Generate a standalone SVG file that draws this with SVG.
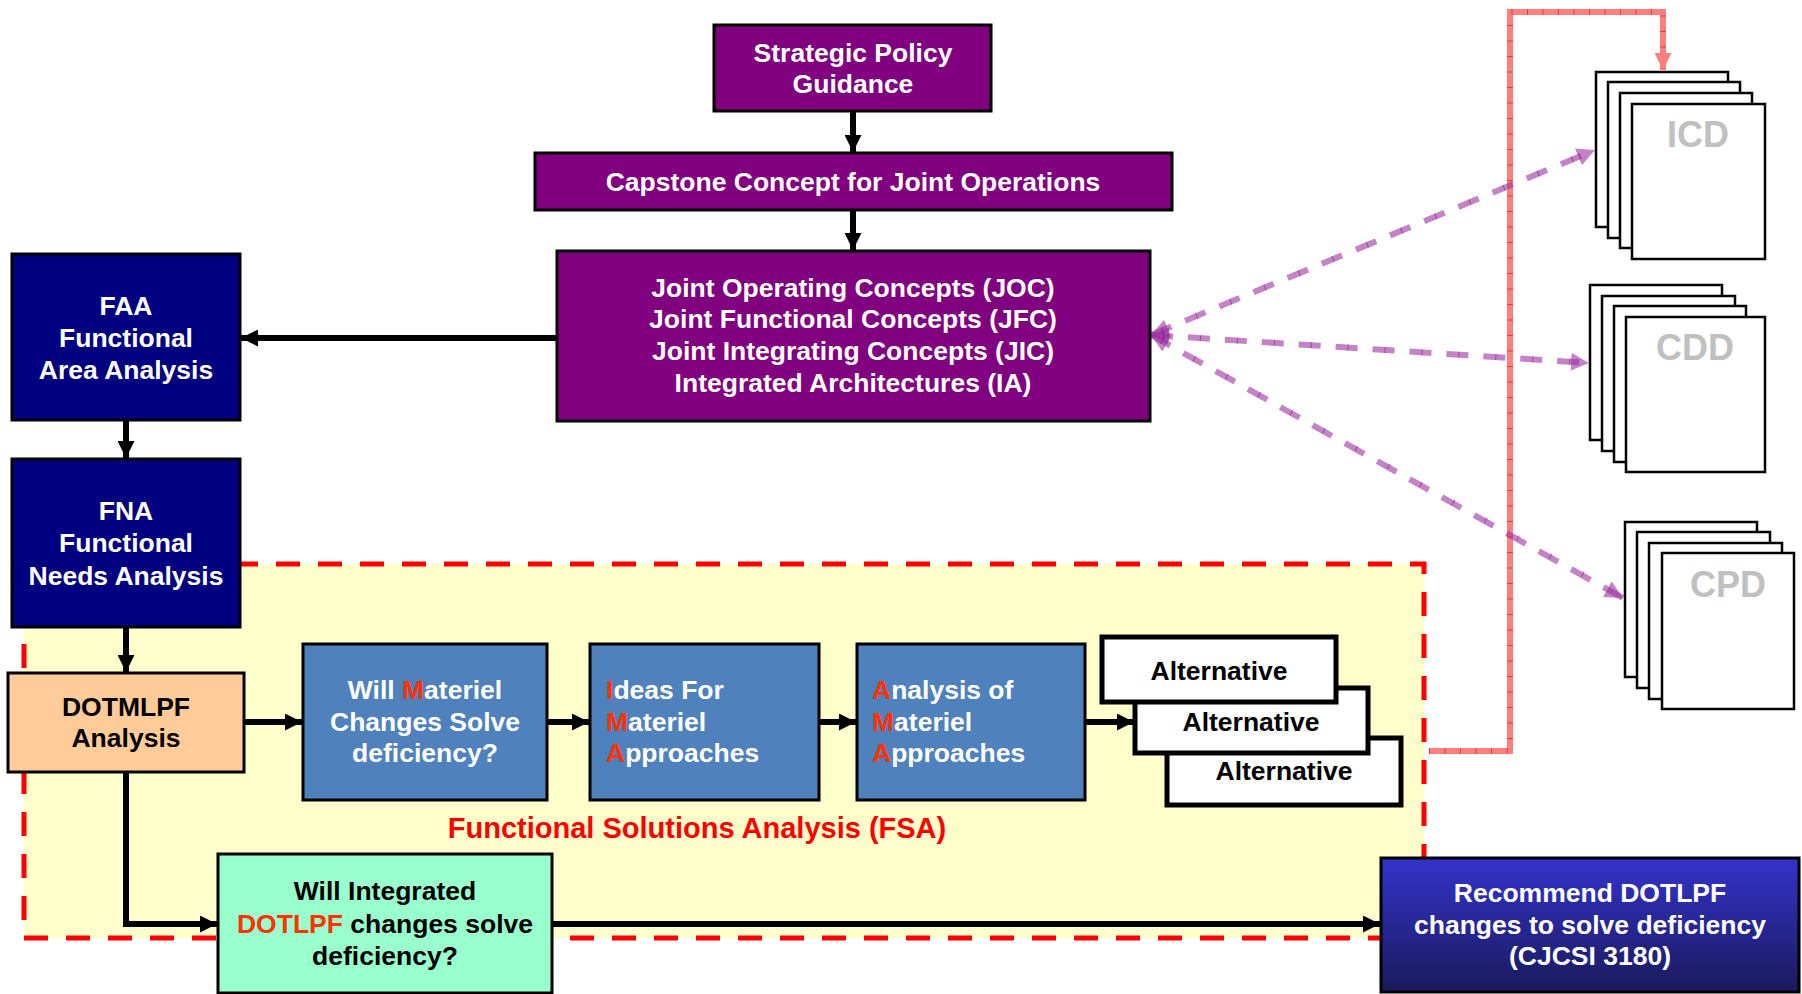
<svg xmlns="http://www.w3.org/2000/svg" width="1802" height="994" viewBox="0 0 1802 994">
<style>
.t{font-family:"Liberation Sans",Arial,sans-serif;font-weight:bold;font-size:26.5px;text-anchor:middle;fill:#fff}
.l{text-anchor:start}
.k{fill:#000}
.r{fill:#FF3300}
.purple{fill:#800080;stroke:#000;stroke-width:3}
.navy{fill:#000080;stroke:#000;stroke-width:3}
.blue{fill:#4F81BD;stroke:#000;stroke-width:3}
.alt{fill:#fff;stroke:#000;stroke-width:5}
.page{fill:#fff;stroke:#000;stroke-width:2.5}
.doc{font-family:"Liberation Sans",Arial,sans-serif;font-weight:bold;font-size:36px;text-anchor:middle;fill:#C0C0C0}
.arr{fill:none;stroke:#000;stroke-width:6;marker-end:url(#ah)}
.pd{fill:none;stroke:#9B30A0;stroke-opacity:0.6;stroke-width:6;stroke-dasharray:22 15;marker-start:url(#ph);marker-end:url(#ph)}
.pt{fill:none;stroke:#800080;stroke-opacity:0.5;stroke-width:6;stroke-dasharray:1 36;stroke-dashoffset:-12}
</style>
<defs>
<marker id="ah" viewBox="0 0 10 10" refX="10" refY="5" markerWidth="17" markerHeight="17" markerUnits="userSpaceOnUse" orient="auto"><path d="M0,0 L10,5 L0,10 z" fill="#000"/></marker>
<marker id="ph" viewBox="0 0 10 10" refX="10" refY="5" markerWidth="18" markerHeight="18" markerUnits="userSpaceOnUse" orient="auto-start-reverse"><path d="M0,0 L10,5 L0,10 z" fill="#9B30A0" fill-opacity="0.6"/></marker>
<marker id="rh" viewBox="0 0 10 10" refX="10" refY="5" markerWidth="17" markerHeight="17" markerUnits="userSpaceOnUse" orient="auto"><path d="M0,0 L10,5 L0,10 z" fill="#FF7F7F"/></marker>
<linearGradient id="rg" x1="0" y1="0" x2="0" y2="1"><stop offset="0" stop-color="#3333CC"/><stop offset="1" stop-color="#1A1A5C"/></linearGradient>
</defs>
<rect width="1802" height="994" fill="#fff"/>

<g id="fsa-region">
<rect x="24" y="564" width="1400" height="374" fill="#FFFFCC" stroke="#FF0000" stroke-width="5" stroke-dasharray="24 18"/>
<text class="t" x="697" y="838" style="font-size:29px;fill:#FF0000">Functional Solutions Analysis (FSA)</text>
</g>

<g id="connectors">
<path class="arr" d="M853,111 V152"/>
<path class="arr" d="M853,210 V250"/>
<path class="arr" d="M557,338 H241"/>
<path class="arr" d="M126,420 V458"/>
<path class="arr" d="M126,627 V672"/>
<path class="arr" d="M244,722 H302"/>
<path class="arr" d="M547,722 H589"/>
<path class="arr" d="M819,722 H856"/>
<path class="arr" d="M1085,722 H1134"/>
<path class="arr" d="M126,772 V924 H217"/>
<path class="arr" d="M552,924 H1380"/>
<path d="M1429,751 H1510 V12 H1663 V70" fill="none" stroke="#FF7F7F" stroke-width="6" marker-end="url(#rh)"/>
<path d="M1429,751 H1510 V12 H1663 V58" fill="none" stroke="#FF2020" stroke-opacity="0.8" stroke-width="6" stroke-dasharray="1 14.5"/>
<path class="pd" d="M1151,335 L1595,150"/>
<path class="pd" d="M1151,335 L1589,363"/>
<path class="pd" d="M1151,335 L1623,598"/>
<path class="pt" d="M1151,335 L1580,156"/>
<path class="pt" d="M1151,335 L1574,362"/>
<path class="pt" d="M1151,335 L1610,589"/>
</g>

<g id="strategic">
<rect class="purple" x="714" y="25" width="277" height="86"/>
<text class="t" x="853" y="62">Strategic Policy<tspan x="853" y="93">Guidance</tspan></text>
</g>
<g id="capstone">
<rect class="purple" x="535" y="153" width="637" height="57"/>
<text class="t" x="853" y="191">Capstone Concept for Joint Operations</text>
</g>
<g id="concepts">
<rect class="purple" x="557" y="251" width="593" height="170"/>
<text class="t" x="853" y="297">Joint Operating Concepts (JOC)<tspan x="853" y="328">Joint Functional Concepts (JFC)</tspan><tspan x="853" y="360">Joint Integrating Concepts (JIC)</tspan><tspan x="853" y="392">Integrated Architectures (IA)</tspan></text>
</g>
<g id="faa">
<rect class="navy" x="12" y="254" width="228" height="166"/>
<text class="t" x="126" y="315">FAA<tspan x="126" y="347">Functional</tspan><tspan x="126" y="379">Area Analysis</tspan></text>
</g>
<g id="fna">
<rect class="navy" x="12" y="459" width="228" height="168"/>
<text class="t" x="126" y="520">FNA<tspan x="126" y="552">Functional</tspan><tspan x="126" y="585">Needs Analysis</tspan></text>
</g>
<g id="dotmlpf">
<rect x="8" y="673" width="236" height="99" fill="#FFCC99" stroke="#000" stroke-width="3"/>
<text class="t k" x="126" y="716">DOTMLPF<tspan x="126" y="747">Analysis</tspan></text>
</g>
<g id="materiel">
<rect class="blue" x="303" y="644" width="244" height="156"/>
<text class="t" x="425" y="699">Will <tspan class="r">M</tspan>ateriel<tspan x="425" y="731">Changes Solve</tspan><tspan x="425" y="762">deficiency?</tspan></text>
</g>
<g id="ifma">
<rect class="blue" x="590" y="644" width="229" height="156"/>
<text class="t l" x="606" y="699"><tspan class="r">I</tspan>deas For<tspan x="606" y="731"><tspan class="r">M</tspan>ateriel</tspan><tspan x="606" y="762"><tspan class="r">A</tspan>pproaches</tspan></text>
</g>
<g id="ama">
<rect class="blue" x="857" y="644" width="228" height="156"/>
<text class="t l" x="872" y="699"><tspan class="r">A</tspan>nalysis of<tspan x="872" y="731"><tspan class="r">M</tspan>ateriel</tspan><tspan x="872" y="762"><tspan class="r">A</tspan>pproaches</tspan></text>
</g>
<g id="alternatives">
<rect class="alt" x="1167" y="738" width="234" height="67"/>
<text class="t k" x="1284" y="780">Alternative</text>
<rect class="alt" x="1135" y="688" width="233" height="65"/>
<text class="t k" x="1251" y="731">Alternative</text>
<rect class="alt" x="1102" y="637" width="234" height="65"/>
<text class="t k" x="1219" y="680">Alternative</text>
</g>
<g id="dotlpf">
<rect x="218" y="854" width="334" height="139" fill="#99FFCC" stroke="#000" stroke-width="3"/>
<text class="t k" x="385" y="900">Will Integrated<tspan x="385" y="933"><tspan class="r">DOTLPF</tspan> changes solve</tspan><tspan x="385" y="965">deficiency?</tspan></text>
</g>
<g id="recommend">
<rect x="1381" y="858" width="418" height="134" fill="url(#rg)" stroke="#000" stroke-width="3"/>
<text class="t" x="1590" y="902">Recommend DOTLPF<tspan x="1590" y="934">changes to solve deficiency</tspan><tspan x="1590" y="965">(CJCSI 3180)</tspan></text>
</g>
<g id="icd">
<rect class="page" x="1596" y="72" width="132" height="155"/>
<rect class="page" x="1608" y="82" width="132" height="156"/>
<rect class="page" x="1620" y="93" width="132" height="155"/>
<rect class="page" x="1632" y="104" width="133" height="155"/>
<text class="doc" x="1698" y="147">ICD</text>
</g>
<g id="cdd">
<rect class="page" x="1590" y="285" width="132" height="155"/>
<rect class="page" x="1602" y="296" width="133" height="155"/>
<rect class="page" x="1614" y="306" width="132" height="156"/>
<rect class="page" x="1626" y="317" width="139" height="155"/>
<text class="doc" x="1695" y="360">CDD</text>
</g>
<g id="cpd">
<rect class="page" x="1625" y="522" width="132" height="155"/>
<rect class="page" x="1637" y="532" width="133" height="156"/>
<rect class="page" x="1649" y="543" width="133" height="156"/>
<rect class="page" x="1662" y="553" width="132" height="156"/>
<text class="doc" x="1728" y="597">CPD</text>
</g>
</svg>
